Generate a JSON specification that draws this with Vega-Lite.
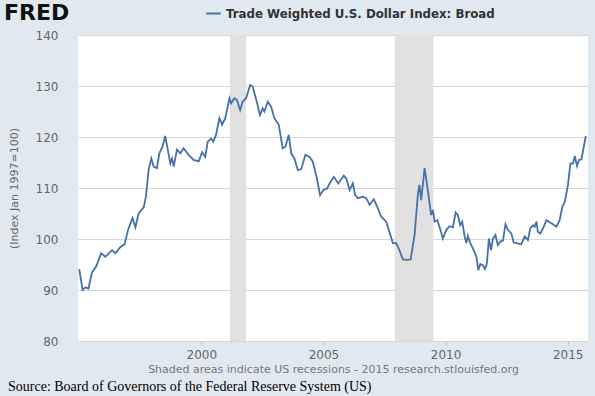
{
  "$schema": "https://vega.github.io/schema/vega-lite/v6.json",
  "width": 510,
  "height": 306,
  "autosize": "none",
  "padding": {"left": 78, "top": 35, "right": 7, "bottom": 55},
  "background": "#e1e9f0",
  "config": {
    "view": {"fill": "white", "stroke": null},
    "font": "DejaVu Sans"
  },
  "title": {
    "text": "Source: Board of Governors of the Federal Reserve System (US)",
    "orient": "bottom",
    "anchor": "start",
    "frame": "group",
    "dx": -70,
    "offset": 6,
    "font": "Liberation Serif",
    "fontSize": 14,
    "fontWeight": "normal",
    "color": "black"
  },
  "datasets": {
    "recessions": [
      {"start": 2001.17, "end": 2001.83},
      {"start": 2007.92, "end": 2009.5}
    ],
    "series": [
      {"year": 1995.0, "value": 94.1}, {"year": 1995.14, "value": 90.0}, {"year": 1995.25, "value": 90.5},
      {"year": 1995.38, "value": 90.3}, {"year": 1995.52, "value": 93.4}, {"year": 1995.69, "value": 94.6},
      {"year": 1995.9, "value": 97.2}, {"year": 1996.07, "value": 96.5}, {"year": 1996.34, "value": 97.8},
      {"year": 1996.48, "value": 97.2}, {"year": 1996.68, "value": 98.4}, {"year": 1996.86, "value": 99.0},
      {"year": 1997.0, "value": 101.8}, {"year": 1997.18, "value": 104.1}, {"year": 1997.3, "value": 102.3},
      {"year": 1997.43, "value": 105.0}, {"year": 1997.64, "value": 106.2}, {"year": 1997.73, "value": 108.3},
      {"year": 1997.84, "value": 113.5}, {"year": 1997.95, "value": 115.8}, {"year": 1998.05, "value": 114.2},
      {"year": 1998.18, "value": 113.9}, {"year": 1998.28, "value": 116.8}, {"year": 1998.41, "value": 118.1},
      {"year": 1998.52, "value": 120.2}, {"year": 1998.73, "value": 114.8}, {"year": 1998.8, "value": 115.8},
      {"year": 1998.87, "value": 114.2}, {"year": 1999.0, "value": 117.5}, {"year": 1999.14, "value": 116.8},
      {"year": 1999.27, "value": 117.8}, {"year": 1999.48, "value": 116.5}, {"year": 1999.68, "value": 115.5},
      {"year": 1999.89, "value": 115.2}, {"year": 2000.03, "value": 117.0}, {"year": 2000.16, "value": 116.1},
      {"year": 2000.26, "value": 119.1}, {"year": 2000.4, "value": 119.7}, {"year": 2000.49, "value": 119.1},
      {"year": 2000.6, "value": 120.4}, {"year": 2000.74, "value": 123.7}, {"year": 2000.85, "value": 122.4},
      {"year": 2000.98, "value": 123.7}, {"year": 2001.15, "value": 127.6}, {"year": 2001.22, "value": 126.6},
      {"year": 2001.35, "value": 127.6}, {"year": 2001.45, "value": 127.3}, {"year": 2001.59, "value": 125.3},
      {"year": 2001.69, "value": 126.9}, {"year": 2001.83, "value": 127.6}, {"year": 2002.0, "value": 130.2},
      {"year": 2002.1, "value": 129.9}, {"year": 2002.27, "value": 126.9}, {"year": 2002.4, "value": 124.3},
      {"year": 2002.51, "value": 125.6}, {"year": 2002.58, "value": 125.0}, {"year": 2002.72, "value": 126.9},
      {"year": 2002.86, "value": 125.9}, {"year": 2002.99, "value": 123.7}, {"year": 2003.17, "value": 122.4},
      {"year": 2003.33, "value": 117.8}, {"year": 2003.44, "value": 118.1}, {"year": 2003.58, "value": 120.4},
      {"year": 2003.68, "value": 116.8}, {"year": 2003.81, "value": 115.8}, {"year": 2003.95, "value": 113.5},
      {"year": 2004.09, "value": 113.7}, {"year": 2004.26, "value": 116.5}, {"year": 2004.43, "value": 116.1},
      {"year": 2004.56, "value": 115.2}, {"year": 2004.73, "value": 111.9}, {"year": 2004.86, "value": 108.6},
      {"year": 2005.0, "value": 109.6}, {"year": 2005.15, "value": 109.9}, {"year": 2005.25, "value": 110.9},
      {"year": 2005.42, "value": 112.2}, {"year": 2005.61, "value": 110.9}, {"year": 2005.83, "value": 112.4},
      {"year": 2005.93, "value": 111.9}, {"year": 2006.07, "value": 109.6}, {"year": 2006.2, "value": 110.9},
      {"year": 2006.3, "value": 108.6}, {"year": 2006.41, "value": 108.0}, {"year": 2006.61, "value": 108.3},
      {"year": 2006.75, "value": 108.0}, {"year": 2006.89, "value": 106.7}, {"year": 2007.06, "value": 107.8},
      {"year": 2007.23, "value": 106.0}, {"year": 2007.36, "value": 104.4}, {"year": 2007.57, "value": 103.4},
      {"year": 2007.7, "value": 101.4}, {"year": 2007.84, "value": 99.2}, {"year": 2007.98, "value": 99.2},
      {"year": 2008.11, "value": 97.8}, {"year": 2008.25, "value": 96.0}, {"year": 2008.39, "value": 95.9},
      {"year": 2008.57, "value": 96.0}, {"year": 2008.73, "value": 100.8}, {"year": 2008.87, "value": 109.0},
      {"year": 2008.93, "value": 110.6}, {"year": 2009.0, "value": 107.6}, {"year": 2009.14, "value": 113.9},
      {"year": 2009.27, "value": 109.6}, {"year": 2009.41, "value": 104.7}, {"year": 2009.48, "value": 105.7},
      {"year": 2009.55, "value": 103.4}, {"year": 2009.66, "value": 103.7}, {"year": 2009.75, "value": 102.4},
      {"year": 2009.89, "value": 100.1}, {"year": 2010.03, "value": 101.8}, {"year": 2010.16, "value": 102.5},
      {"year": 2010.3, "value": 102.3}, {"year": 2010.41, "value": 105.2}, {"year": 2010.5, "value": 104.7},
      {"year": 2010.6, "value": 102.7}, {"year": 2010.68, "value": 103.4}, {"year": 2010.78, "value": 100.5},
      {"year": 2010.85, "value": 99.2}, {"year": 2010.91, "value": 100.6}, {"year": 2011.01, "value": 99.2},
      {"year": 2011.15, "value": 97.8}, {"year": 2011.26, "value": 96.5}, {"year": 2011.34, "value": 93.9},
      {"year": 2011.42, "value": 95.1}, {"year": 2011.53, "value": 94.8}, {"year": 2011.61, "value": 94.1},
      {"year": 2011.69, "value": 95.2}, {"year": 2011.77, "value": 100.1}, {"year": 2011.86, "value": 97.8},
      {"year": 2011.94, "value": 100.1}, {"year": 2012.04, "value": 100.8}, {"year": 2012.14, "value": 98.8},
      {"year": 2012.24, "value": 99.5}, {"year": 2012.35, "value": 99.7}, {"year": 2012.45, "value": 102.9},
      {"year": 2012.55, "value": 101.8}, {"year": 2012.69, "value": 101.1}, {"year": 2012.79, "value": 99.3},
      {"year": 2012.9, "value": 99.2}, {"year": 2013.1, "value": 99.0}, {"year": 2013.24, "value": 100.5},
      {"year": 2013.37, "value": 99.8}, {"year": 2013.47, "value": 102.1}, {"year": 2013.58, "value": 102.7},
      {"year": 2013.65, "value": 102.4}, {"year": 2013.72, "value": 103.4}, {"year": 2013.78, "value": 101.4},
      {"year": 2013.88, "value": 101.1}, {"year": 2013.99, "value": 102.1}, {"year": 2014.13, "value": 103.7},
      {"year": 2014.33, "value": 103.1}, {"year": 2014.54, "value": 102.4}, {"year": 2014.67, "value": 103.7},
      {"year": 2014.78, "value": 106.3}, {"year": 2014.88, "value": 107.3}, {"year": 2015.01, "value": 110.6},
      {"year": 2015.11, "value": 114.8}, {"year": 2015.22, "value": 114.8}, {"year": 2015.29, "value": 116.3},
      {"year": 2015.38, "value": 114.3}, {"year": 2015.46, "value": 115.5}, {"year": 2015.56, "value": 115.6},
      {"year": 2015.74, "value": 120.2}
    ]
  },
  "layer": [
    {
      "data": {"name": "recessions"},
      "mark": {"type": "rect", "color": "#e1e1e1"},
      "encoding": {
        "x": {"field": "start", "type": "quantitative"},
        "x2": {"field": "end"}
      }
    },
    {
      "data": {"name": "series"},
      "mark": {"type": "line", "strokeWidth": 1.8},
      "encoding": {
        "x": {
          "field": "year",
          "type": "quantitative",
          "scale": {"domain": [1994.95, 2015.83], "nice": false, "zero": false},
          "axis": {
            "values": [2000, 2005, 2010, 2015],
            "format": "d",
            "grid": false,
            "domain": false,
            "tickSize": 4,
            "tickColor": "#c0c0c0",
            "labelColor": "#666666",
            "labelFontSize": 12,
            "labelPadding": 4,
            "title": "Shaded areas indicate US recessions - 2015 research.stlouisfed.org",
            "titleColor": "#777777",
            "titleFontSize": 11,
            "titleFontWeight": "normal",
            "titlePadding": 3
          }
        },
        "y": {
          "field": "value",
          "type": "quantitative",
          "scale": {"domain": [80, 140], "nice": false, "zero": false},
          "axis": {
            "values": [80, 90, 100, 110, 120, 130, 140],
            "grid": true,
            "gridColor": "#d6d6d6",
            "domain": false,
            "ticks": false,
            "labelColor": "#666666",
            "labelFontSize": 12,
            "labelPadding": 20,
            "title": "(Index Jan 1997=100)",
            "titleColor": "#666666",
            "titleFontSize": 11,
            "titleFontWeight": "normal",
            "titlePadding": 16
          }
        },
        "color": {
          "datum": "Trade Weighted U.S. Dollar Index: Broad",
          "scale": {"range": ["#4572a7"]},
          "legend": {
            "orient": "none",
            "legendX": -76,
            "legendY": -32,
            "title": "FRED",
            "titleOrient": "left",
            "titleBaseline": "middle",
            "titleFont": "DejaVu Sans",
            "titleFontSize": 22,
            "titleFontWeight": 900,
            "titleColor": "#111111",
            "titlePadding": 135,
            "symbolType": "stroke",
            "symbolStrokeWidth": 2,
            "symbolSize": 210,
            "labelFont": "DejaVu Sans",
            "labelFontSize": 11.8,
            "labelFontWeight": "bold",
            "labelColor": "#333333",
            "labelLimit": 400,
            "padding": 2
          }
        }
      }
    }
  ]
}
